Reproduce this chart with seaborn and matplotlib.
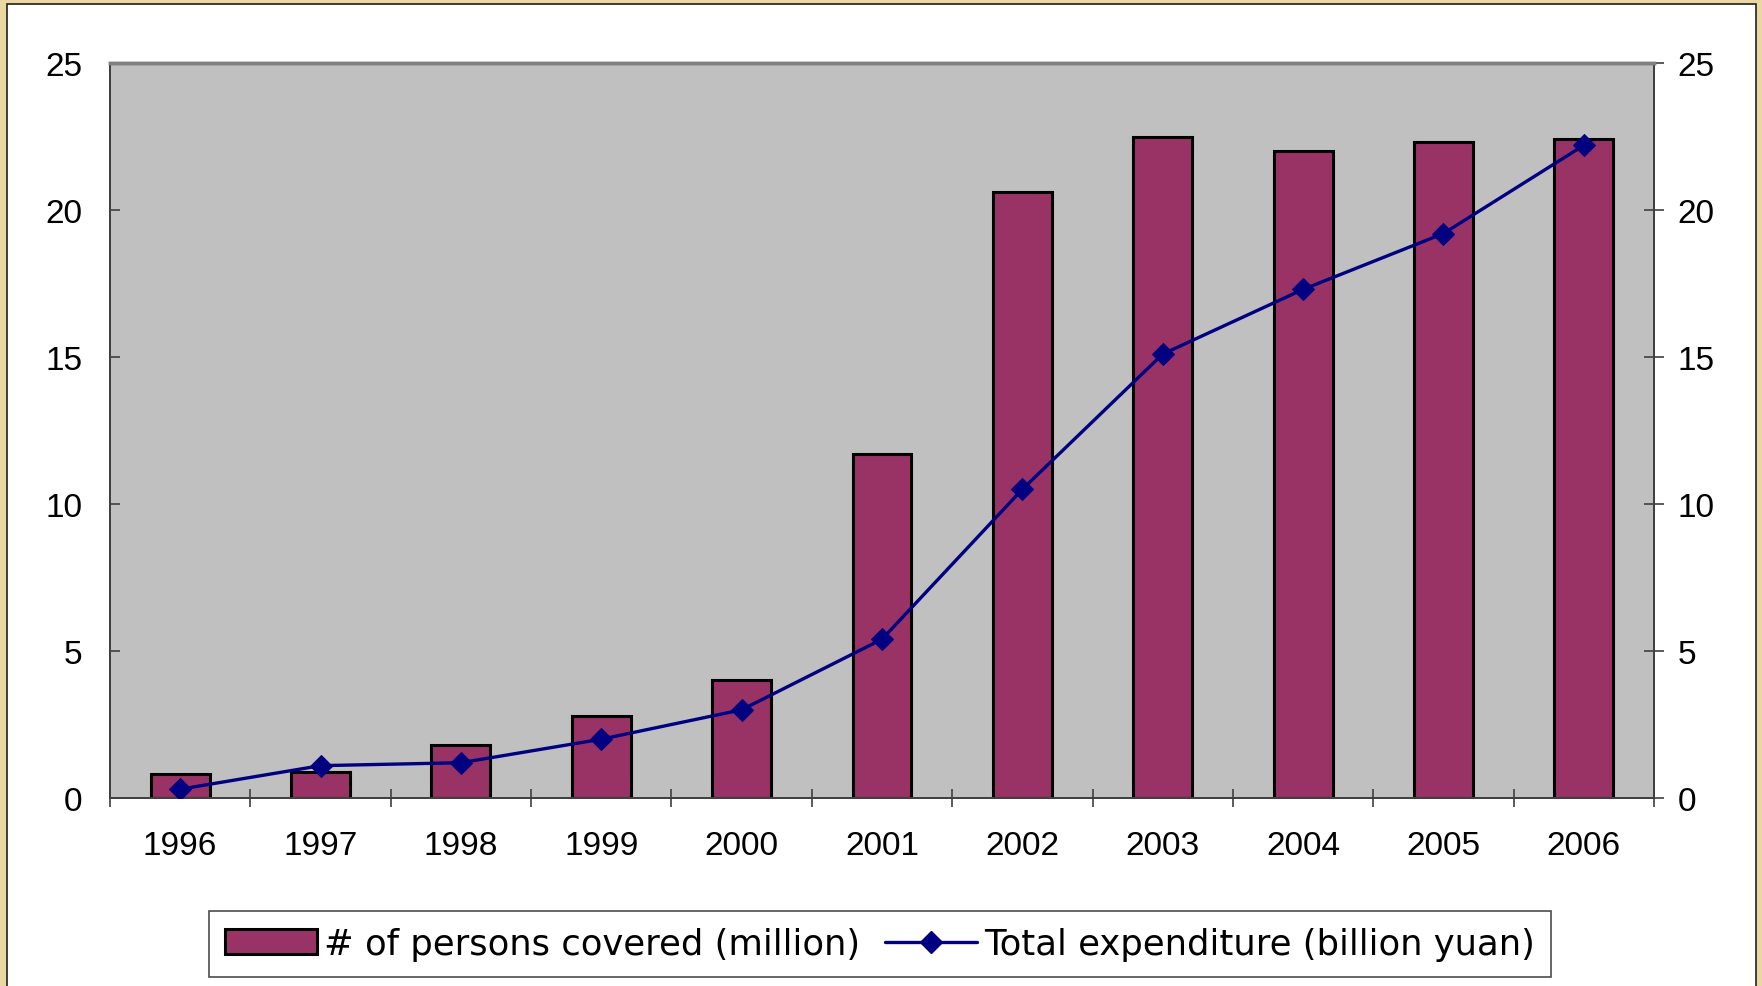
import numpy as np
import pandas as pd
import matplotlib
matplotlib.use("Agg")
import matplotlib.pyplot as plt
from matplotlib.patches import Rectangle, Patch
from matplotlib.lines import Line2D
import seaborn as sns

years = ["1996", "1997", "1998", "1999", "2000", "2001",
         "2002", "2003", "2004", "2005", "2006"]
persons_covered = [0.8, 0.9, 1.8, 2.8, 4.0, 11.7, 20.6, 22.5, 22.0, 22.3, 22.4]
total_expenditure = [0.3, 1.1, 1.2, 2.0, 3.0, 5.4, 10.5, 15.1, 17.3, 19.2, 22.2]
y_ticks = [0, 5, 10, 15, 20, 25]

bar_label = "# of persons covered (million)"
line_label = "Total expenditure (billion yuan)"

BAR_COLOR = "#993366"
LINE_COLOR = "#000080"
PLOT_BG = "#C0C0C0"
FRAME_BG = "#EAD7A2"

sns.set_theme(style="white")
plt.rcParams["font.family"] = ["Liberation Sans", "DejaVu Sans"]

df = pd.DataFrame({"year": years,
                   "persons": persons_covered,
                   "expenditure": total_expenditure})
df["pos"] = df.index

fig = plt.figure(figsize=(17.62, 9.87), dpi=100)
fig.patch.set_facecolor(FRAME_BG)

# white slide panel with a thin dark border
panel = Rectangle((7 / 1762, -0.01), (1756 - 7) / 1762, 1 - 5 / 987 + 0.01,
                  transform=fig.transFigure, facecolor="white",
                  edgecolor="#202020", linewidth=1.2, zorder=-5)
fig.patches.append(panel)

ax = fig.add_axes([110 / 1762, 1 - 799 / 987, (1654 - 110) / 1762, (799 - 64) / 987])
ax.set_facecolor(PLOT_BG)

sns.barplot(data=df, x="year", y="persons", color=BAR_COLOR, width=0.42,
            edgecolor="black", linewidth=2.2, saturation=1, ax=ax, zorder=2)

ax2 = ax.twinx()
sns.lineplot(data=df, x="pos", y="expenditure", color=LINE_COLOR, linewidth=2.4,
             marker="D", markersize=11.5, markeredgecolor=LINE_COLOR,
             ax=ax2, zorder=3)

for a in (ax, ax2):
    a.set_ylim(0, 25)
    a.set_yticks(y_ticks)
    a.set_xlim(-0.5, len(years) - 0.5)
    a.set_xlabel("")
    a.set_ylabel("")

TICK_SIZE = 24
ax.set_xticks(range(len(years)))
ax.set_xticklabels(years)
ax.set_xticks(np.arange(-0.5, len(years), 1.0), minor=True)
ax.tick_params(axis="x", which="major", length=0, pad=23, labelsize=TICK_SIZE, colors="black")
ax.tick_params(axis="x", which="minor", direction="inout", length=13,
               width=1.2, color="#404040", bottom=True)
ax.tick_params(axis="y", which="major", direction="in", length=7, width=1.2,
               color="#404040", pad=20, labelsize=TICK_SIZE, labelcolor="black", left=True)
ax2.tick_params(axis="y", which="major", direction="inout", length=14, width=1.2,
                color="#404040", pad=10, labelsize=TICK_SIZE, labelcolor="black", right=True)

for a in (ax, ax2):
    for side in ("left", "bottom", "right"):
        a.spines[side].set_color("#404040")
        a.spines[side].set_linewidth(1.3)
    a.spines["top"].set_color("#808080")
    a.spines["top"].set_linewidth(2.5)

handles = [Patch(facecolor=BAR_COLOR, edgecolor="black", linewidth=2.2),
           Line2D([], [], color=LINE_COLOR, linewidth=2.4, marker="D",
                  markersize=11.5, markeredgecolor=LINE_COLOR)]
leg = fig.legend(handles, [bar_label, line_label], ncol=2, loc="center",
                 bbox_to_anchor=(880 / 1762, 1 - 945 / 987),
                 prop={"family": "DejaVu Sans", "size": 25.5},
                 frameon=True, fancybox=False, edgecolor="#202020",
                 handlelength=2.6, handleheight=0.7, handletextpad=0.2,
                 columnspacing=0.7, borderpad=0.45)
leg.get_frame().set_linewidth(1.2)
for t in leg.get_texts():
    t.set_color("black")

fig.savefig("out.png", dpi=100, facecolor=fig.get_facecolor())
